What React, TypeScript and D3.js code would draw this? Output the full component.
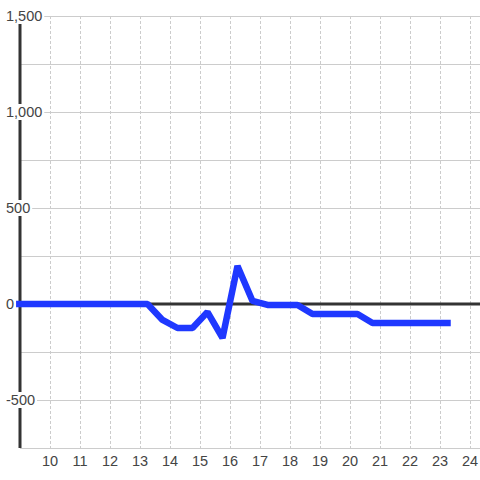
import React, { useRef, useEffect } from "react";
import * as d3 from "d3";

const times = [8.75, 9.25, 9.75, 10.25, 10.75, 11.25, 11.75, 12.25, 12.75, 13.25, 13.75, 14.25, 14.75, 15.25, 15.75, 16.25, 16.75, 17.25, 17.75, 18.25, 18.75, 19.25, 19.75, 20.25, 20.75, 21.25, 21.75, 22.25, 22.75, 23.25];
const values = [0, 0, 0, 0, 0, 0, 0, 0, 0, 0, -83, -125, -125, -42, -177, 198, 16, -5, -5, -5, -52, -52, -52, -52, -99, -99, -99, -99, -99, -99];
const xTicks = [10, 11, 12, 13, 14, 15, 16, 17, 18, 19, 20, 21, 22, 23, 24];
const yTicks = [1500, 1000, 500, 0, -500];
const yGrid = [1500, 1250, 1000, 750, 500, 250, 0, -250, -500, -750];

const W = 480, H = 480;
const left = 20, right = 480, top = 16, bottom = 448;

export default function App() {
  const ref = useRef<SVGSVGElement>(null);
  useEffect(() => {
    const svg = d3.select(ref.current);
    svg.selectAll("*").remove();
    const x = d3.scaleLinear().domain([9, 9 + (right - left) / 30]).range([left, right]);
    const y = d3.scaleLinear().domain([-750, 1500]).range([bottom, top]);
    const font = "'Liberation Sans', Arial, sans-serif";

    svg.append("rect").attr("width", W).attr("height", H).attr("fill", "#ffffff");

    svg.append("g").selectAll("line").data(yGrid).join("line")
      .attr("x1", left).attr("x2", right)
      .attr("y1", d => y(d)).attr("y2", d => y(d))
      .attr("stroke", "#cccccc").attr("stroke-width", 1)
      .attr("shape-rendering", "crispEdges");

    svg.append("g").selectAll("line").data(xTicks).join("line")
      .attr("x1", d => Math.round(x(d)) + 0.5).attr("x2", d => Math.round(x(d)) + 0.5)
      .attr("y1", top).attr("y2", bottom)
      .attr("stroke", "#cccccc").attr("stroke-width", 1)
      .attr("stroke-dasharray", "3,2");

    svg.append("line")
      .attr("x1", left).attr("x2", right)
      .attr("y1", y(0)).attr("y2", y(0))
      .attr("stroke", "#333333").attr("stroke-width", 3);

    svg.append("line")
      .attr("x1", left).attr("x2", left)
      .attr("y1", top).attr("y2", bottom)
      .attr("stroke", "#333333").attr("stroke-width", 3);

    const line = d3.line<number>()
      .x((_, i) => x(times[i]))
      .y(d => y(d));
    svg.append("path")
      .attr("d", line(values))
      .attr("fill", "none")
      .attr("stroke", "#1f38ff")
      .attr("stroke-width", 6.5)
      .attr("stroke-linejoin", "bevel")
      .attr("stroke-linecap", "square");

    const fmt = d3.format(",");
    const canvas = document.createElement("canvas");
    const ctx = canvas.getContext("2d")!;
    ctx.font = `14.5px ${font}`;
    const yl = svg.append("g");
    yTicks.forEach(t => {
      const label = fmt(t).replace("−", "-");
      const w = ctx.measureText(label).width;
      const cy = y(t);
      yl.append("rect")
        .attr("x", 0).attr("y", cy - 8)
        .attr("width", 6 + w + 2).attr("height", 16)
        .attr("fill", "#ffffff");
      yl.append("text")
        .attr("x", 6).attr("y", cy + 5)
        .attr("font-family", font).attr("font-size", 14.5)
        .attr("fill", "#444444")
        .text(label);
    });

    svg.append("g").selectAll("text").data(xTicks).join("text")
      .attr("x", d => x(d)).attr("y", 466)
      .attr("text-anchor", "middle")
      .attr("font-family", font).attr("font-size", 14.5)
      .attr("fill", "#444444")
      .text(d => String(d));
  }, []);
  return (
    <svg ref={ref} width={W} height={H} style={{ position: "absolute", left: 0, top: 0 }} />
  );
}
